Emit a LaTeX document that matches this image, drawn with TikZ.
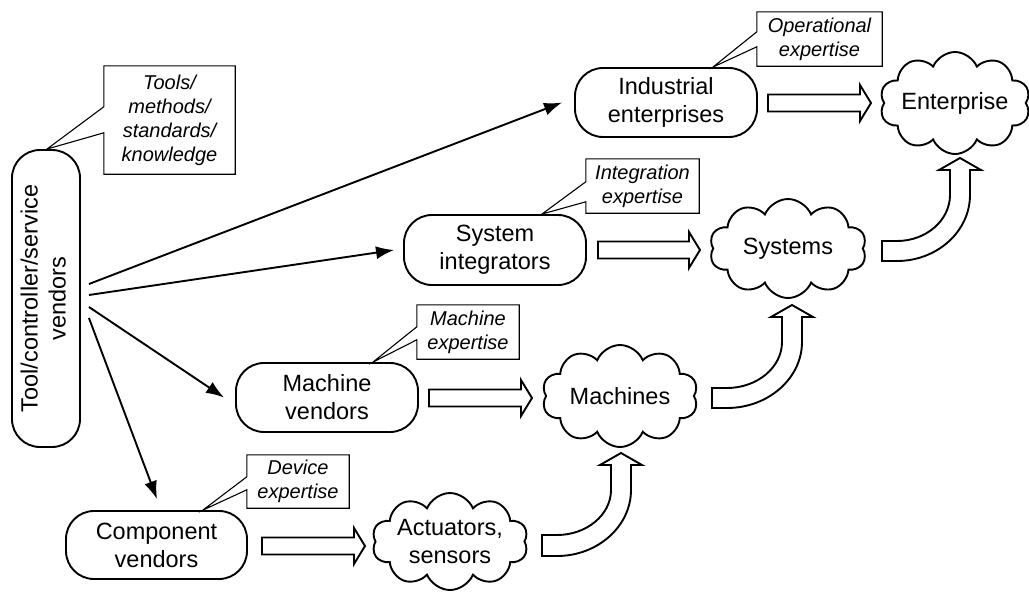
\documentclass[tikz,border=0pt]{standalone}
\usepackage{fontspec}
\setmainfont{Liberation Sans}
\usetikzlibrary{shapes.symbols,calc,arrows.meta}

\newcommand\hollowarrow[2]{%
  \draw[hollow] ($(#1)+(0,-8.5)$) -- ($(#2)+(-11,-8.5)$) -- ($(#2)+(-11,-18)$) -- (#2)
    -- ($(#2)+(-11,18)$) -- ($(#2)+(-11,8.5)$) -- ($(#1)+(0,8.5)$) -- cycle;}
% #1 x0, #2 ytop, #3 ybot, #4 xl, #5 xr, #6 yhead, #7 ytip
\newcommand\bendarrow[7]{%
  \draw[hollow] (#1,#3) -- ({#1+15},#3)
    .. controls ({#1+15+0.55*(#5-#1-15)},#3) and (#5,{#6+25+0.55*(#3-#6-25)}) .. (#5,{#6+25})
    -- (#5,#6) -- ({#5+11},#6) -- ({(#4+#5)/2},#7) -- ({#4-11},#6) -- (#4,#6) -- (#4,{#6+25})
    .. controls (#4,{#6+25+0.55*(#2-#6-25)}) and ({#1+15+0.55*(#4-#1-15)},#2) .. ({#1+15},#2)
    -- (#1,#2) -- cycle;}
\newcommand\calloutline[4]{%
  \draw[noteline] (#1.north west) -- (#1.north east) -- (#1.south east) -- (#1.south west)
    -- ($(#1.north west)+(0,#4)$) -- (#2) -- ($(#1.north west)+(0,#3)$) -- cycle;}

\begin{document}
\begin{tikzpicture}[x=1pt,y=-1pt,
  box/.style={draw,line width=1.9pt,rounded corners=28pt,align=center,
    font=\fontsize{23.5}{28}\selectfont,inner sep=0pt},
  note/.style={align=center,font=\fontsize{20}{24}\selectfont\itshape,inner sep=0pt},
  noteline/.style={line width=1.1pt,line join=miter},
  cloudn/.style={cloud,draw,line width=1.9pt,cloud puffs=10,cloud puff arc=135,
    cloud ignores aspect,align=center,font=\fontsize{23.5}{28}\selectfont,inner sep=0pt},
  feed/.style={line width=1.9pt,-{Latex[length=18pt,width=13pt]}},
  hollow/.style={draw,line width=1.9pt,fill=white,line join=miter}]

\fill[white] (0,0) rectangle (1029,592);
\useasboundingbox (0,0) rectangle (1029,592);

% main boxes
\node[box,minimum width=68pt,minimum height=297pt] (tool) at (46,298.5)
  {\rotatebox{90}{\begin{tabular}{@{}c@{}}Tool/controller/service\\vendors\end{tabular}}};
\node[box,minimum width=182pt,minimum height=69pt] (ind) at (666,102.5) {Industrial\\enterprises};
\node[box,minimum width=182pt,minimum height=70pt] (sys) at (495,250) {System\\integrators};
\node[box,minimum width=182pt,minimum height=69pt] (mach) at (327,397.5) {Machine\\vendors};
\node[box,minimum width=181pt,minimum height=68pt] (comp) at (156.5,545) {Component\\vendors};

% clouds
\node[cloudn,minimum width=145pt,minimum height=102pt] (ent) at (955,103) {Enterprise};
\node[cloudn,minimum width=157pt,minimum height=99pt] (syst) at (788,248.5) {Systems};
\node[cloudn,minimum width=156pt,minimum height=102pt] (machs) at (620,396) {Machines};
\node[cloudn,minimum width=156pt,minimum height=97pt] (act) at (450,541.5) {Actuators,\\sensors};

% callouts
\node[note,minimum width=131pt,minimum height=108pt] (n1) at (169.5,120) {Tools/\\methods/\\standards/\\knowledge};
\node[note,minimum width=125pt,minimum height=54pt] (n2) at (819.5,39) {Operational\\expertise};
\node[note,minimum width=113pt,minimum height=54pt] (n3) at (642.5,186) {Integration\\expertise};
\node[note,minimum width=102pt,minimum height=54pt] (n4) at (468,332) {Machine\\expertise};
\node[note,minimum width=102pt,minimum height=53pt] (n5) at (298,481.5) {Device\\expertise};

\coordinate (t1) at ($(tool.north)+(1,0)$);
\coordinate (t2) at ($(ind.north)+(47,0)$);
\coordinate (t3) at ($(sys.north)+(47,0)$);
\coordinate (t4) at ($(mach.north)+(46,0)$);
\coordinate (t5) at ($(comp.north)+(46.5,0)$);
\calloutline{n1}{t1}{41}{67}
\calloutline{n2}{t2}{20}{35}
\calloutline{n3}{t3}{23}{43}
\calloutline{n4}{t4}{22}{35}
\calloutline{n5}{t5}{22}{35}

% thin arrows from tool vendors
\draw[feed] ($(tool.east)+(8,-14.5)$) -- ($(ind.west)+(-12,0)$);
\draw[feed] ($(tool.east)+(8,-3.5)$) -- ($(sys.west)+(-9,0)$);
\draw[feed] ($(tool.east)+(8,8.5)$) -- ($(mach.west)+(-11,0)$);
\draw[feed] ($(tool.east)+(8,19.5)$) -- ($(comp.north)+(0.5,-11)$);

% hollow straight arrows
\coordinate (a1s) at ($(ind.east)+(10,0.5)$);  \coordinate (a1e) at (871,103);
\coordinate (a2s) at ($(sys.east)+(11,0)$);    \coordinate (a2e) at (700,250);
\coordinate (a3s) at ($(mach.east)+(10,0.5)$); \coordinate (a3e) at (532,398);
\coordinate (a4s) at ($(comp.east)+(14,1)$);   \coordinate (a4e) at (365,546);
\hollowarrow{a1s}{a1e}
\hollowarrow{a2s}{a2e}
\hollowarrow{a3s}{a3e}
\hollowarrow{a4s}{a4e}

% hollow bent arrows
\bendarrow{882}{241}{261}{950}{970}{170}{158}
\bendarrow{712}{388}{408}{782}{802}{317}{305}
\bendarrow{542}{535}{556}{611}{631}{465}{453}

\end{tikzpicture}
\end{document}
